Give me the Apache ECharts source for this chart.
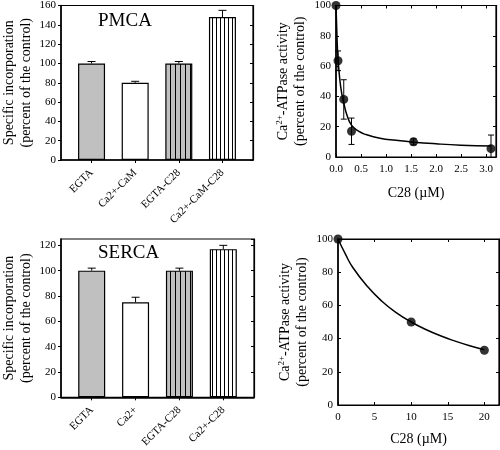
<!DOCTYPE html>
<html><head><meta charset="utf-8">
<script src="https://cdn.jsdelivr.net/npm/echarts@6/dist/echarts.min.js"></script>
<style>html,body{margin:0;padding:0;background:#fff}#c{width:500px;height:450px}</style>
</head><body><div id="c"></div>
<script>
// ---- data ----
const pmcaCats = ['EGTA', 'Ca2+-CaM', 'EGTA-C28', 'Ca2+-CaM-C28'];
const pmcaVals = [100, 80, 100, 148];
const pmcaErr  = [2, 1.5, 2, 7];
const sercaCats = ['EGTA', 'Ca2+', 'EGTA-C28', 'Ca2+-C28'];
const sercaVals = [100, 75, 100, 117];
const sercaErr  = [2, 4, 2, 3];

const pmcaDoseX = [0, 0.04, 0.155, 0.31, 1.55, 3.1];
const pmcaDoseY = [100, 63.5, 38, 17, 10, 5.5];
const pmcaDoseErr = [0, 6.5, 13, 8.7, 2, 9];
const pmcaFitX = [0, 0.02, 0.04, 0.08, 0.12, 0.16, 0.22, 0.31, 0.45, 0.6, 0.88, 1.2, 1.55, 2.0, 2.5, 3.1];
const pmcaFitY = [100, 79, 65, 50, 41, 35, 27.5, 21, 17, 14.8, 12.4, 11, 9.8, 8.7, 7.8, 7.2];

const sercaDoseX = [0, 10, 20];
const sercaDoseY = [100, 50, 33];
const sercaFitX = [0, 1, 2, 4, 6, 8, 10, 12, 14, 16, 18, 20];
const sercaFitY = [100, 91, 83, 71.5, 62.5, 55.5, 50, 45.5, 41.7, 38.5, 35.7, 33.3];

const pairs = (xs, ys) => xs.map((x, i) => [x, ys[i]]);

// ---- styling helpers ----
const FONT = '"Liberation Serif", "Times New Roman", serif';
function stripe(bg, w) {
  const c = document.createElement('canvas'); c.width = w; c.height = 4;
  const g = c.getContext('2d');
  g.fillStyle = bg; g.fillRect(0, 0, w, 4);
  g.fillStyle = '#000'; g.fillRect(0, 0, 1, 4);
  return { image: c, repeat: 'repeat' };
}
const barFills = ['#c0c0c0', '#ffffff', stripe('#c0c0c0', 5), stripe('#ffffff', 4)];

function barData(vals) {
  return vals.map((v, i) => ({ value: [i + 1, v], itemStyle: { color: barFills[i], borderColor: '#000', borderWidth: 1.2 } }));
}
function errData(xs, ys, es) { return xs.map((x, i) => [x, ys[i], es[i]]); }

function errRender(capW, upOnly) {
  return function (params, api) {
    const x = api.value(0), y = api.value(1), e = api.value(2);
    if (!e) return null;
    const lo = upOnly ? y : Math.max(y - e, 0);
    const top = api.coord([x, y + e]), bot = api.coord([x, lo]);
    const h = capW / 2, st = { stroke: '#000', lineWidth: 1 };
    const ch = [
      { type: 'line', shape: { x1: top[0], y1: top[1], x2: bot[0], y2: bot[1] }, style: st },
      { type: 'line', shape: { x1: top[0] - h, y1: top[1], x2: top[0] + h, y2: top[1] }, style: st }
    ];
    if (!upOnly && y - e > 0) ch.push({ type: 'line', shape: { x1: bot[0] - h, y1: bot[1], x2: bot[0] + h, y2: bot[1] }, style: st });
    return { type: 'group', children: ch };
  };
}

const lbl = { color: '#000', fontFamily: FONT, fontSize: 11 };
const nameStyle = {
  color: '#000', fontFamily: FONT, fontSize: 14, lineHeight: 17,
  rich: {
    n: { fontFamily: FONT, fontSize: 14, color: '#000', lineHeight: 17 },
    sup: { fontFamily: FONT, fontSize: 9, color: '#000', verticalAlign: 'top', lineHeight: 17 }
  }
};
const yNameBars = 'Specific incorporation\n(percent of the control)';
const yNameAct = '{n|Ca}{sup|2+}{n|-ATPase activity}\n{n|(percent of the control)}';

function catX(gi, cats) {
  return {
    type: 'value', gridIndex: gi, min: 0.3, max: 4.7,
    axisLine: { onZero: false, lineStyle: { color: '#000', width: 1.5 } },
    axisTick: { show: true, inside: false, length: 3, customValues: [1, 2, 3, 4], lineStyle: { color: '#000' } },
    axisLabel: Object.assign({}, lbl, { rotate: 45, margin: 11, customValues: [1, 2, 3, 4], formatter: v => cats[Math.round(v) - 1] || '' }),
    splitLine: { show: false }
  };
}
function valX(gi, max, interval, pos, dec, gap) {
  return {
    type: 'value', gridIndex: gi, min: 0, max: max, interval: interval, position: pos,
    axisLine: { onZero: false, lineStyle: { color: '#000', width: 1.2 } },
    axisTick: { show: true, inside: true, length: 3, lineStyle: { color: '#000' } },
    axisLabel: Object.assign({}, lbl, { show: pos === 'bottom', margin: 7, showMaxLabel: false, formatter: v => v.toFixed(dec) }),
    splitLine: { show: false },
    name: pos === 'bottom' ? 'C28 (\u00b5M)' : '', nameLocation: 'middle', nameGap: gap,
    nameTextStyle: { color: '#000', fontFamily: FONT, fontSize: 14 }
  };
}
function valY(gi, max, pos, name, gap, tickInside) {
  return {
    type: 'value', gridIndex: gi, min: 0, max: max, interval: 20, position: pos,
    axisLine: { onZero: false, lineStyle: { color: '#000', width: pos === 'left' ? 1.5 : 1.2 } },
    axisTick: { show: true, inside: tickInside, length: 3, lineStyle: { color: '#000' } },
    axisLabel: Object.assign({}, lbl, { show: pos === 'left', margin: 5, showMaxLabel: max % 20 === 0 }),
    splitLine: { show: false },
    name: name || '', nameLocation: 'middle', nameGap: gap, nameRotate: 90,
    nameTextStyle: nameStyle
  };
}

const chart = echarts.init(document.getElementById('c'), null, { renderer: 'canvas' });
chart.setOption({
  animation: false,
  backgroundColor: '#fff',
  textStyle: { fontFamily: FONT },
  grid: [
    { left: 57, top: 4, width: 196, height: 156, show: true, borderColor: '#000', borderWidth: 1.2 },
    { left: 336, top: 4, width: 160, height: 153, show: true, borderColor: '#000', borderWidth: 1.2 },
    { left: 58, top: 239, width: 196, height: 166, show: true, borderColor: '#000', borderWidth: 1.2 },
    { left: 338, top: 239, width: 161, height: 166, show: true, borderColor: '#000', borderWidth: 1.2 }
  ],
  xAxis: [
    catX(0, pmcaCats),
    valX(1, 3.2, 0.5, 'bottom', 1, 29),
    valX(1, 3.2, 0.5, 'top', 1, 0),
    catX(2, sercaCats),
    valX(3, 22, 5, 'bottom', 0, 27),
    valX(3, 22, 5, 'top', 0, 0)
  ],
  yAxis: [
    valY(0, 160, 'left', yNameBars, 26, false),
    valY(0, 160, 'right', '', 0, true),
    valY(1, 100, 'left', yNameAct, 27, true),
    valY(1, 100, 'right', '', 0, true),
    valY(2, 125, 'left', yNameBars, 26, false),
    valY(2, 125, 'right', '', 0, true),
    valY(3, 100, 'left', yNameAct, 27, true),
    valY(3, 100, 'right', '', 0, true)
  ],
  graphic: [
    { type: 'text', x: 98, y: 21, style: { text: 'PMCA', fontFamily: FONT, fontSize: 19, fill: '#000', verticalAlign: 'middle' } },
    { type: 'text', x: 98, y: 253, style: { text: 'SERCA', fontFamily: FONT, fontSize: 19, fill: '#000', verticalAlign: 'middle' } }
  ],
  series: [
    { type: 'custom', xAxisIndex: 0, yAxisIndex: 0, z: 1, renderItem: errRender(8, true), data: errData([1, 2, 3, 4], pmcaVals, pmcaErr) },
    { type: 'bar', xAxisIndex: 0, yAxisIndex: 0, z: 2, barWidth: 27, data: barData(pmcaVals) },
    { type: 'custom', xAxisIndex: 3, yAxisIndex: 4, z: 1, renderItem: errRender(8, true), data: errData([1, 2, 3, 4], sercaVals, sercaErr) },
    { type: 'bar', xAxisIndex: 3, yAxisIndex: 4, z: 2, barWidth: 27, data: barData(sercaVals) },

    { type: 'line', xAxisIndex: 1, yAxisIndex: 2, smooth: 0.5, showSymbol: false, symbol: 'none',
      lineStyle: { color: '#000', width: 1.5 }, data: pairs(pmcaFitX, pmcaFitY), z: 2 },
    { type: 'custom', xAxisIndex: 1, yAxisIndex: 2, z: 3, renderItem: errRender(6, false), data: errData(pmcaDoseX, pmcaDoseY, pmcaDoseErr) },
    { type: 'scatter', xAxisIndex: 1, yAxisIndex: 2, symbol: 'circle', symbolSize: 9, itemStyle: { color: '#000' }, z: 4,
      data: pairs(pmcaDoseX, pmcaDoseY), clip: false },

    { type: 'line', xAxisIndex: 4, yAxisIndex: 6, smooth: 0.5, showSymbol: false, symbol: 'none',
      lineStyle: { color: '#000', width: 1.5 }, data: pairs(sercaFitX, sercaFitY), z: 2 },
    { type: 'scatter', xAxisIndex: 4, yAxisIndex: 6, symbol: 'circle', symbolSize: 9, itemStyle: { color: '#000' }, z: 4,
      data: pairs(sercaDoseX, sercaDoseY), clip: false }
  ]
});
</script>
</body></html>
